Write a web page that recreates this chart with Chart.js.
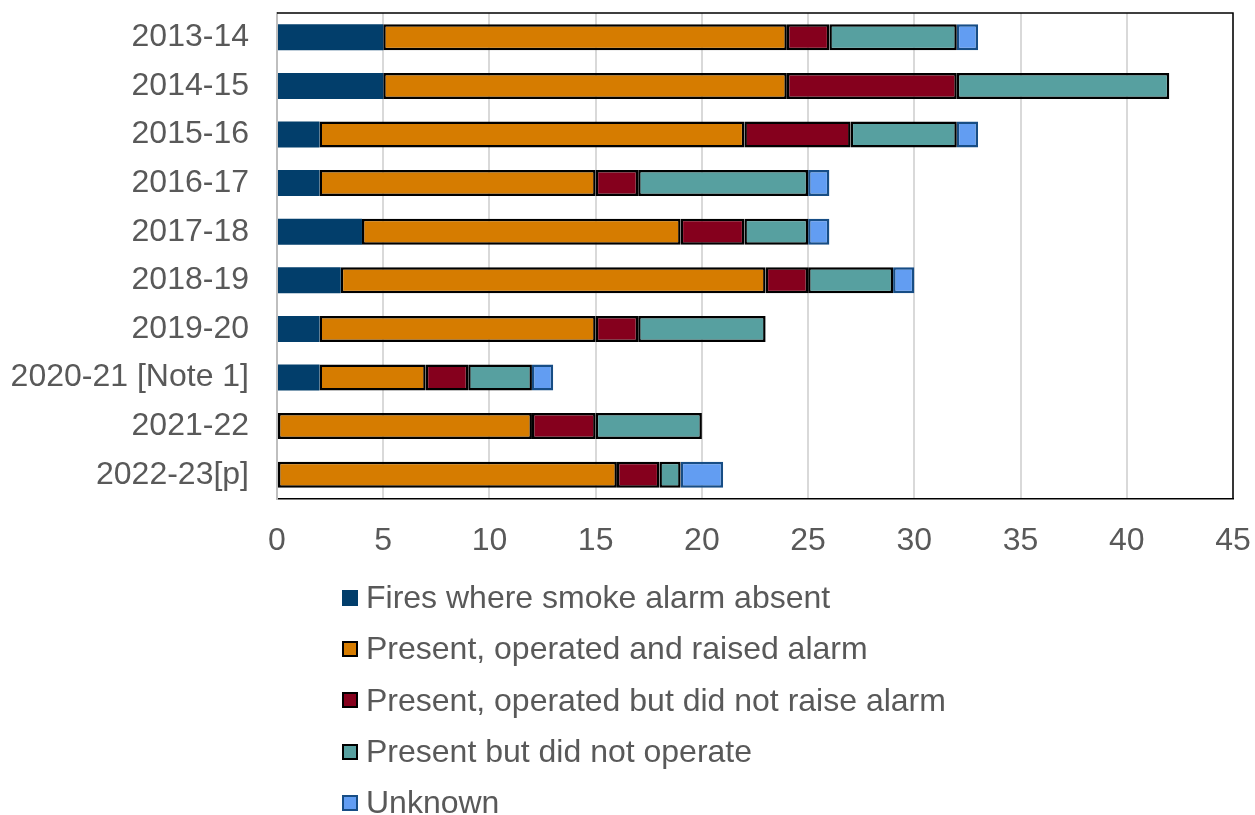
<!DOCTYPE html>
<html>
<head>
<meta charset="utf-8">
<script src="https://cdn.jsdelivr.net/npm/chart.js@4"></script>
<style>
  body { margin: 0; background: #fff; }
  #wrap { position: relative; width: 1255px; height: 815px; }
  #legend { position: absolute; left: 342px; top: 572px; font-family: "Liberation Sans", Arial, sans-serif; font-size: 32px; color: #595959; }
  #legend div { height: 51.3px; display: flex; align-items: center; white-space: nowrap; }
  #legend span.box { display: inline-block; width: 12px; height: 12px; margin-right: 8px; }
</style>
</head>
<body>
<div id="wrap">
  <canvas id="myChart" width="1255" height="815"></canvas>
  <div id="legend"></div>
</div>
<script>
var years = ["2013-14", "2014-15", "2015-16", "2016-17", "2017-18", "2018-19", "2019-20", "2020-21 [Note 1]", "2021-22", "2022-23[p]"];
var absent = [5, 5, 2, 2, 4, 3, 2, 2, 0, 0];
var raised = [19, 19, 20, 13, 15, 20, 13, 5, 12, 16];
var notRaised = [2, 8, 5, 2, 3, 2, 2, 2, 3, 2];
var notOperate = [6, 10, 5, 8, 3, 4, 6, 3, 5, 1];
var unknown = [1, 0, 1, 1, 1, 1, 0, 1, 0, 2];
var xTicks = [0, 5, 10, 15, 20, 25, 30, 35, 40, 45];

var font = "'Liberation Sans', Arial, sans-serif";
var ctx = document.getElementById('myChart').getContext('2d');

function bar(label, values, fill, border, width) {
    return {
        label: label,
        data: values,
        backgroundColor: fill,
        borderColor: border,
        borderWidth: width,
        borderSkipped: false,
        barPercentage: 0.535,
        categoryPercentage: 1
    };
}

var data = {
    labels: years,
    datasets: [
        bar("Fires where smoke alarm absent", absent, "#023e6b", "#023e6b", 0),
        bar("Present, operated and raised alarm", raised, "#d67c00", "#000000", 2.5),
        bar("Present, operated but did not raise alarm", notRaised, "#85001d", "#000000", 2.5),
        bar("Present but did not operate", notOperate, "#57a0a0", "#000000", 2.5),
        bar("Unknown", unknown, "#629df2", "#174d85", 2.5)
    ]
};

// top and right edge of the plot frame
var frame = {
    id: 'frame',
    afterDraw: function (chart) {
        var a = chart.chartArea, c = chart.ctx;
        c.save();
        c.strokeStyle = '#000';
        c.lineWidth = 1.5;
        c.beginPath();
        c.moveTo(a.left, a.top);
        c.lineTo(a.right, a.top);
        c.lineTo(a.right, a.bottom);
        c.stroke();
        c.restore();
    }
};

var options = {
    indexAxis: 'y',
    responsive: false,
    animation: false,
    layout: { padding: { top: 13, right: 22, bottom: 246, left: 0 } },
    plugins: {
        legend: { display: false },
        tooltip: { enabled: false }
    },
    scales: {
        x: {
            stacked: true,
            min: 0,
            max: 45,
            afterBuildTicks: function (scale) {
                scale.ticks = xTicks.map(function (v) { return { value: v }; });
            },
            afterFit: function (scale) {
                scale.height = 70;
                scale.paddingLeft = 0;
                scale.paddingRight = 0;
            },
            grid: { color: '#d9d9d9', lineWidth: 2, drawTicks: false },
            border: { color: '#000', width: 1.5 },
            ticks: { padding: 23, color: '#595959', font: { family: font, size: 32 } }
        },
        y: {
            stacked: true,
            afterFit: function (scale) {
                scale.width = 277;
                scale.paddingTop = 0;
                scale.paddingBottom = 0;
            },
            grid: { display: false, drawTicks: false },
            border: { color: '#bfbfbf', width: 2 },
            ticks: { padding: 28, color: '#595959', font: { family: font, size: 32 } }
        }
    }
};

var chart = new Chart(ctx, {
    type: "bar",
    data: data,
    options: options,
    plugins: [frame]
});

// legend, one entry per row
var legend = document.getElementById('legend');
chart.data.datasets.forEach(function (ds) {
    var row = document.createElement('div');
    var box = document.createElement('span');
    box.className = 'box';
    box.style.background = ds.backgroundColor;
    box.style.border = '2px solid ' + ds.borderColor;
    row.appendChild(box);
    row.appendChild(document.createTextNode(ds.label));
    legend.appendChild(row);
});
</script>
</body>
</html>
